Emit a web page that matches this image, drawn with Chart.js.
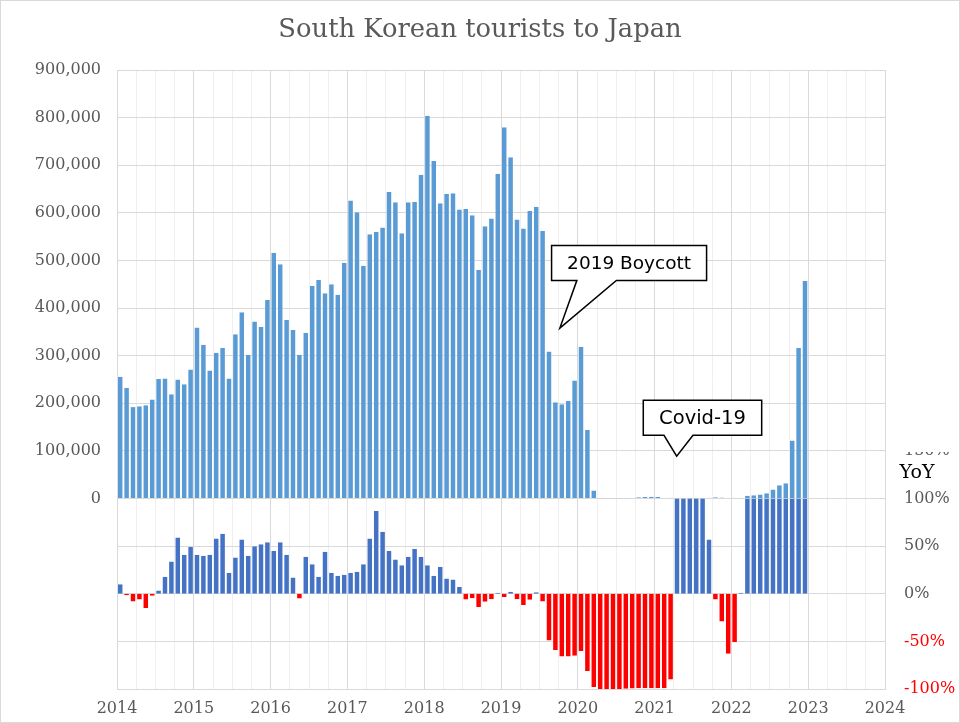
<!DOCTYPE html>
<html lang="en">
<head>
    <meta charset="UTF-8">
    <title>South Korean tourists to Japan</title>
    <script src="https://cdn.jsdelivr.net/npm/chart.js"></script>
    <style>
        html, body { margin: 0; padding: 0; background: #fff; }
        #wrap { width: 960px; height: 723px; }
    </style>
</head>
<body>
    <div id="wrap"><canvas id="myChart" width="960" height="723"></canvas></div>

    <script>
        // year tick labels (one every 12 months)
        const yearLabels = ['2014', '2015', '2016', '2017', '2018', '2019', '2020', '2021', '2022', '2023', '2024'];

        // monthly South Korean visitors to Japan, Jan 2014 .. Dec 2022
        const visitors = [
            256000, 232000, 192000, 194000, 196000, 208000, 251000, 252000, 219000, 250000, 240000, 271000,
            359000, 323000, 269000, 306000, 316000, 252000, 345000, 391000, 302000, 372000, 360000, 417000,
            516000, 492000, 375000, 354000, 302000, 348000, 447000, 459000, 431000, 450000, 428000, 495000,
            626000, 601000, 489000, 555000, 560000, 569000, 644000, 622000, 557000, 622000, 623000, 680000,
            804000, 709000, 620000, 640000, 641000, 607000, 608000, 595000, 480000, 572000, 588000, 682000,
            780000, 717000, 586000, 567000, 604000, 613000, 562000, 309000, 202000, 198000, 205000, 248000,
            318000, 144000, 17000, 400, 400, 500, 600, 800, 1000, 2800, 3400, 3600,
            3200, 1300, 1700, 1100, 1200, 1400, 1300, 1400, 1600, 2600, 2400, 1300,
            1600, 1300, 6000, 7000, 8400, 11000, 19000, 28000, 32000, 122000, 316000, 457000
        ];

        // year-on-year change in %, as drawn (capped at 100%)
        const yoy = [
            10, -1.5, -8, -6, -15, -2, 3.5, 18, 34, 59, 41, 49,
            41, 40, 41, 58, 63, 22, 38, 57, 40, 50, 52, 54,
            45, 54, 41, 17, -5, 39, 31, 18, 44, 22, 19, 20,
            22, 23, 31, 58, 87, 65, 45, 36, 30, 39, 47, 39,
            30, 19, 28, 16, 15, 7, -6, -4.6, -14, -8.5, -5.7, 1,
            -3.5, 2, -5.7, -11.7, -6.4, 1.5, -8, -49, -59, -66, -66, -65,
            -60, -81, -98, -100, -100, -100, -100, -99.8, -99.6, -99.3, -99.3, -99.3,
            -99.3, -99.3, -90, 100, 100, 100, 100, 100, 57, -6, -29, -63,
            -51, 1, 100, 100, 100, 100, 100, 100, 100, 100, 100, 100
        ];

        // callouts, anchored at (month, visitors)
        const callouts = [
            { text: '2019 Boycott', month: 69.2, value: 358000 },
            { text: 'Covid-19', month: 87.45, value: 89000 }
        ];

        const serif = 'DejaVu Serif';
        const grey = '#595959';

        // box geometry relative to the tip, in px
        const calloutShape = {
            '2019 Boycott': { l: -8.3, r: 146.7, t: -82.7, b: -47.7, t1: 17, t2: 56.5, size: 18.5 },
            'Covid-19': { l: -33.4, r: 85, t: -55.8, b: -20.8, t1: -12.7, t2: 16.3, size: 19.5 }
        };

        const decorPlugin = {
            id: 'decor',
            afterDatasetsDraw(chart) {
                const ctx = chart.ctx;
                const xs = chart.scales.x, ys = chart.scales.y;
                ctx.save();
                ctx.lineWidth = 1.5;
                ctx.strokeStyle = '#000';
                ctx.lineJoin = 'miter';
                callouts.forEach(c => {
                    const s = calloutShape[c.text];
                    const tx = xs.getPixelForValue(c.month);
                    const ty = ys.getPixelForValue(c.value);
                    const l = tx + s.l, r = tx + s.r, t = ty + s.t, b = ty + s.b;
                    ctx.beginPath();
                    ctx.moveTo(l, t);
                    ctx.lineTo(r, t);
                    ctx.lineTo(r, b);
                    ctx.lineTo(tx + s.t2, b);
                    ctx.lineTo(tx, ty);
                    ctx.lineTo(tx + s.t1, b);
                    ctx.lineTo(l, b);
                    ctx.closePath();
                    ctx.fillStyle = '#fff';
                    ctx.fill();
                    ctx.stroke();
                    ctx.fillStyle = '#000';
                    ctx.font = s.size + 'px "DejaVu Sans"';
                    ctx.textAlign = 'center';
                    ctx.textBaseline = 'middle';
                    ctx.fillText(c.text, (l + r) / 2, (t + b) / 2 + 1);
                });
                ctx.restore();
            },
            afterDraw(chart) {
                const ctx = chart.ctx;
                ctx.save();
                // title
                ctx.fillStyle = grey;
                ctx.font = '25.8px "' + serif + '"';
                ctx.textAlign = 'center';
                ctx.textBaseline = 'middle';
                ctx.fillText('South Korean tourists to Japan', 480, 30);
                // box of the YoY axis title hides most of the 150% label
                ctx.fillStyle = '#fff';
                ctx.fillRect(893, 434, 67, 18);
                ctx.fillStyle = '#000';
                ctx.font = '19px "' + serif + '"';
                ctx.fillText('YoY', 917, 473);
                // outer frame
                ctx.strokeStyle = '#d9d9d9';
                ctx.lineWidth = 1;
                ctx.strokeRect(0.5, 0.5, 959, 722);
                ctx.restore();
            }
        };

        const ctx = document.getElementById('myChart').getContext('2d');
        new Chart(ctx, {
            type: 'bar',
            data: {
                datasets: [
                    {
                        label: 'Visitors',
                        data: visitors.map((v, i) => ({ x: i + 0.5, y: v })),
                        yAxisID: 'y',
                        backgroundColor: '#5b9bd5',
                        borderColor: 'rgba(255,255,255,0.45)',
                        borderWidth: { left: 0.7, right: 0.7, top: 0, bottom: 0 },
                        grouped: false,
                        categoryPercentage: 1,
                        barPercentage: 0.92
                    },
                    {
                        label: 'YoY',
                        data: yoy.map((v, i) => ({ x: i + 0.5, y: v })),
                        yAxisID: 'y2',
                        backgroundColor: yoy.map(v => v < 0 ? '#ff0000' : '#4472c4'),
                        borderColor: 'rgba(255,255,255,0.45)',
                        borderWidth: { left: 0.7, right: 0.7, top: 0, bottom: 0 },
                        grouped: false,
                        categoryPercentage: 1,
                        barPercentage: 0.92
                    }
                ]
            },
            options: {
                responsive: false,
                animation: false,
                layout: { padding: { top: 70, left: 0, right: 0, bottom: 0 } },
                plugins: {
                    legend: { display: false },
                    tooltip: { enabled: false },
                    title: { display: false }
                },
                scales: {
                    x: {
                        type: 'linear',
                        min: 0,
                        max: 120,
                        offset: false,
                        afterFit: s => { s.height = 34; },
                        grid: {
                            offset: false,
                            drawTicks: false,
                            color: c => (c.tick && c.tick.value % 12 === 0) ? '#d9d9d9' : '#efefef'
                        },
                        border: { color: '#d9d9d9' },
                        ticks: {
                            stepSize: 3,
                            autoSkip: false,
                            maxRotation: 0,
                            padding: 10,
                            color: grey,
                            font: { family: serif, size: 16 },
                            callback: v => v % 12 === 0 ? yearLabels[v / 12] : ''
                        }
                    },
                    y: {
                        position: 'left',
                        min: -400000,
                        max: 900000,
                        afterFit: s => { s.width = 117; },
                        grid: { color: '#d9d9d9', drawTicks: false },
                        border: { color: '#d9d9d9' },
                        ticks: {
                            stepSize: 100000,
                            padding: 16,
                            color: grey,
                            font: { family: serif, size: 16 },
                            callback: v => v < 0 ? '' : v.toLocaleString('en-US')
                        }
                    },
                    y2: {
                        position: 'right',
                        min: -100,
                        max: 550,
                        afterFit: s => { s.width = 75; },
                        grid: { display: false, drawTicks: false },
                        border: { display: false },
                        ticks: {
                            stepSize: 50,
                            padding: 19,
                            color: c => c.tick.value < 0 ? '#ff0000' : grey,
                            font: { family: serif, size: 16 },
                            callback: v => v <= 150 ? v + '%' : ''
                        }
                    }
                }
            },
            plugins: [decorPlugin]
        });
    </script>
</body>
</html>
